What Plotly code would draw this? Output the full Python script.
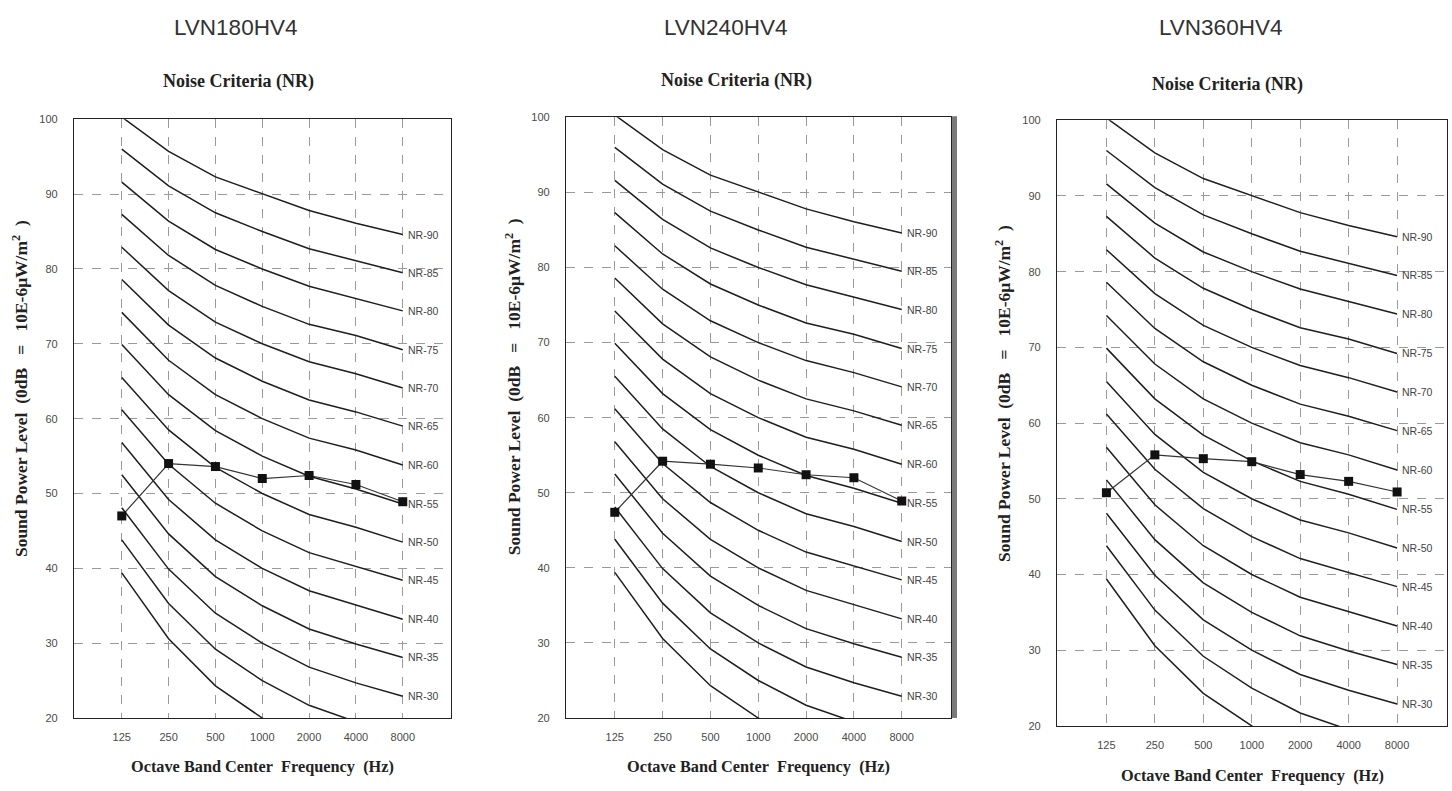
import plotly.graph_objects as go

W, H = 1452, 791

# ---- data ----
freq_labels = ["125", "250", "500", "1000", "2000", "4000", "8000"]
nr_names = ["NR-20", "NR-25", "NR-30", "NR-35", "NR-40", "NR-45", "NR-50", "NR-55",
            "NR-60", "NR-65", "NR-70", "NR-75", "NR-80", "NR-85", "NR-90"]
label_shown = [False, False] + [True] * 13

nr20 = [39.4, 30.6, 24.3, 20.0, 16.6, 14.3, 12.6]
nr25 = [43.8, 35.3, 29.2, 25.0, 21.7, 19.5, 17.8]
nr30 = [48.1, 39.9, 34.0, 30.0, 26.8, 24.7, 22.9]
nr35 = [52.5, 44.6, 38.9, 35.0, 31.9, 29.9, 28.1]
nr40 = [56.8, 49.2, 43.8, 40.0, 37.0, 35.1, 33.2]
nr45 = [61.2, 53.9, 48.7, 45.0, 42.1, 40.3, 38.4]
nr50 = [65.5, 58.5, 53.5, 50.0, 47.2, 45.5, 43.5]
nr55 = [69.9, 63.2, 58.4, 55.0, 52.3, 50.6, 48.6]
nr60 = [74.2, 67.8, 63.2, 60.0, 57.4, 55.8, 53.8]
nr65 = [78.6, 72.5, 68.1, 65.0, 62.5, 60.9, 59.0]
nr70 = [82.9, 77.1, 72.9, 70.0, 67.6, 66.0, 64.1]
nr75 = [87.3, 81.8, 77.8, 75.0, 72.6, 71.1, 69.2]
nr80 = [91.6, 86.4, 82.6, 80.0, 77.7, 76.1, 74.4]
nr85 = [96.0, 91.1, 87.5, 85.0, 82.7, 81.1, 79.5]
nr90 = [100.3, 95.7, 92.3, 90.0, 87.8, 86.1, 84.6]
nr_curves = [nr20, nr25, nr30, nr35, nr40, nr45, nr50, nr55,
             nr60, nr65, nr70, nr75, nr80, nr85, nr90]

models = ["LVN180HV4", "LVN240HV4", "LVN360HV4"]
lvn180 = [47.0, 54.0, 53.6, 52.0, 52.4, 51.2, 48.9]
lvn240 = [47.4, 54.2, 53.8, 53.3, 52.4, 52.0, 48.9]
lvn360 = [50.8, 55.8, 55.3, 54.9, 53.2, 52.3, 50.9]
unit_levels = [lvn180, lvn240, lvn360]

y_ticks = [20, 30, 40, 50, 60, 70, 80, 90, 100]

# ---- layout geometry (pixels) ----
panels = [
    dict(x0=74, x1=451, y0=115, y1=723, title=(235, 22), sub=(238, 77), ytitle=(20, 389), xtitle=772),
    dict(x0=566, x1=951, y0=113, y1=723, title=(725, 22), sub=(736, 76), ytitle=(513, 387), xtitle=772),
    dict(x0=1057, x1=1447, y0=116, y1=731, title=(1220, 22), sub=(1227, 80), ytitle=(1003, 394), xtitle=781),
]

def px(x):
    return x / W

def py(y):
    return 1 - y / H

fig = go.Figure()
xs = list(range(len(freq_labels)))
annotations = []
shapes = []
layout_axes = {}

serif = "Liberation Serif"
sans = "Liberation Sans"
ytitle_text = ("<b>Sound Power Level&nbsp;&nbsp;(0dB&nbsp;&nbsp;&nbsp;=&nbsp;&nbsp;&nbsp;"
               "10E-6μW/m<sup>2</sup>&nbsp;&nbsp;)</b>")

for i, p in enumerate(panels):
    n = "" if i == 0 else str(i + 1)
    xa, ya = "x" + n, "y" + n
    for name, vals, show in zip(nr_names, nr_curves, label_shown):
        fig.add_trace(go.Scatter(x=xs, y=vals, mode="lines", xaxis=xa, yaxis=ya,
                                 line=dict(color="#1e1e1e", width=1.5),
                                 showlegend=False, hoverinfo="skip"))
        if show:
            annotations.append(dict(x=xs[-1], y=vals[-1], xref=xa, yref=ya,
                                    text=name, showarrow=False, xanchor="left",
                                    yanchor="middle", xshift=3,
                                    font=dict(family=sans, size=10.5, color="#444")))
    fig.add_trace(go.Scatter(x=xs, y=unit_levels[i], mode="lines+markers",
                             xaxis=xa, yaxis=ya,
                             line=dict(color="#333", width=1.2),
                             marker=dict(symbol="square", size=9, color="#111"),
                             showlegend=False, name=models[i]))
    axcommon = dict(showline=True, mirror=True, linecolor="#222", linewidth=1.3,
                    showgrid=True, gridcolor="#9a9a9a", gridwidth=1, griddash="dash",
                    zeroline=False, ticks="",
                    tickfont=dict(family=sans, size=11, color="#4a4a4a"))
    layout_axes["xaxis" + n] = dict(axcommon, domain=[px(p["x0"]), px(p["x1"])],
                                    anchor=ya, range=[-1.02, 7.03],
                                    tickvals=xs, ticktext=freq_labels,
                                    ticklabelstandoff=9)
    layout_axes["yaxis" + n] = dict(axcommon, domain=[py(p["y1"]), py(p["y0"])],
                                    anchor=xa, range=[20, 100], tickvals=y_ticks,
                                    ticklabelstandoff=13)
    # titles
    annotations.append(dict(x=px(p["title"][0]), y=py(p["title"][1]), xref="paper", yref="paper",
                            text=models[i], showarrow=False, xanchor="center", yanchor="middle",
                            font=dict(family=sans, size=22.5, color="#333")))
    annotations.append(dict(x=px(p["sub"][0]), y=py(p["sub"][1]), xref="paper", yref="paper",
                            text="<b>Noise Criteria (NR)</b>", showarrow=False,
                            xanchor="center", yanchor="middle",
                            font=dict(family=serif, size=18, color="#222")))
    annotations.append(dict(x=px(p["ytitle"][0]), y=py(p["ytitle"][1]), xref="paper", yref="paper",
                            text=ytitle_text,
                            showarrow=False, textangle=-90, xanchor="center", yanchor="middle",
                            font=dict(family=serif, size=17.5, color="#222")))
    annotations.append(dict(x=px((p["x0"] + p["x1"]) / 2), y=py(p["xtitle"]), xref="paper", yref="paper",
                            text="<b>Octave Band Center&nbsp; Frequency&nbsp; (Hz)</b>",
                            showarrow=False, xanchor="center", yanchor="middle",
                            font=dict(family=serif, size=16.3, color="#222")))

# gray shadow bar on the right of the middle panel
shapes.append(dict(type="rect", xref="paper", yref="paper",
                   x0=px(952), x1=px(957), y0=py(723), y1=py(112),
                   fillcolor="#7a7a7a", line=dict(width=0)))

fig.update_layout(width=W, height=H, margin=dict(l=0, r=0, t=0, b=0),
                  paper_bgcolor="white", plot_bgcolor="white",
                  annotations=annotations, shapes=shapes, **layout_axes)

fig.write_html("out.html", config={"displayModeBar": False}, post_script=(
    "document.body.style.margin='0';document.body.style.padding='0';"
    "document.body.style.overflow='hidden';"
    "document.documentElement.style.overflow='hidden';"))
